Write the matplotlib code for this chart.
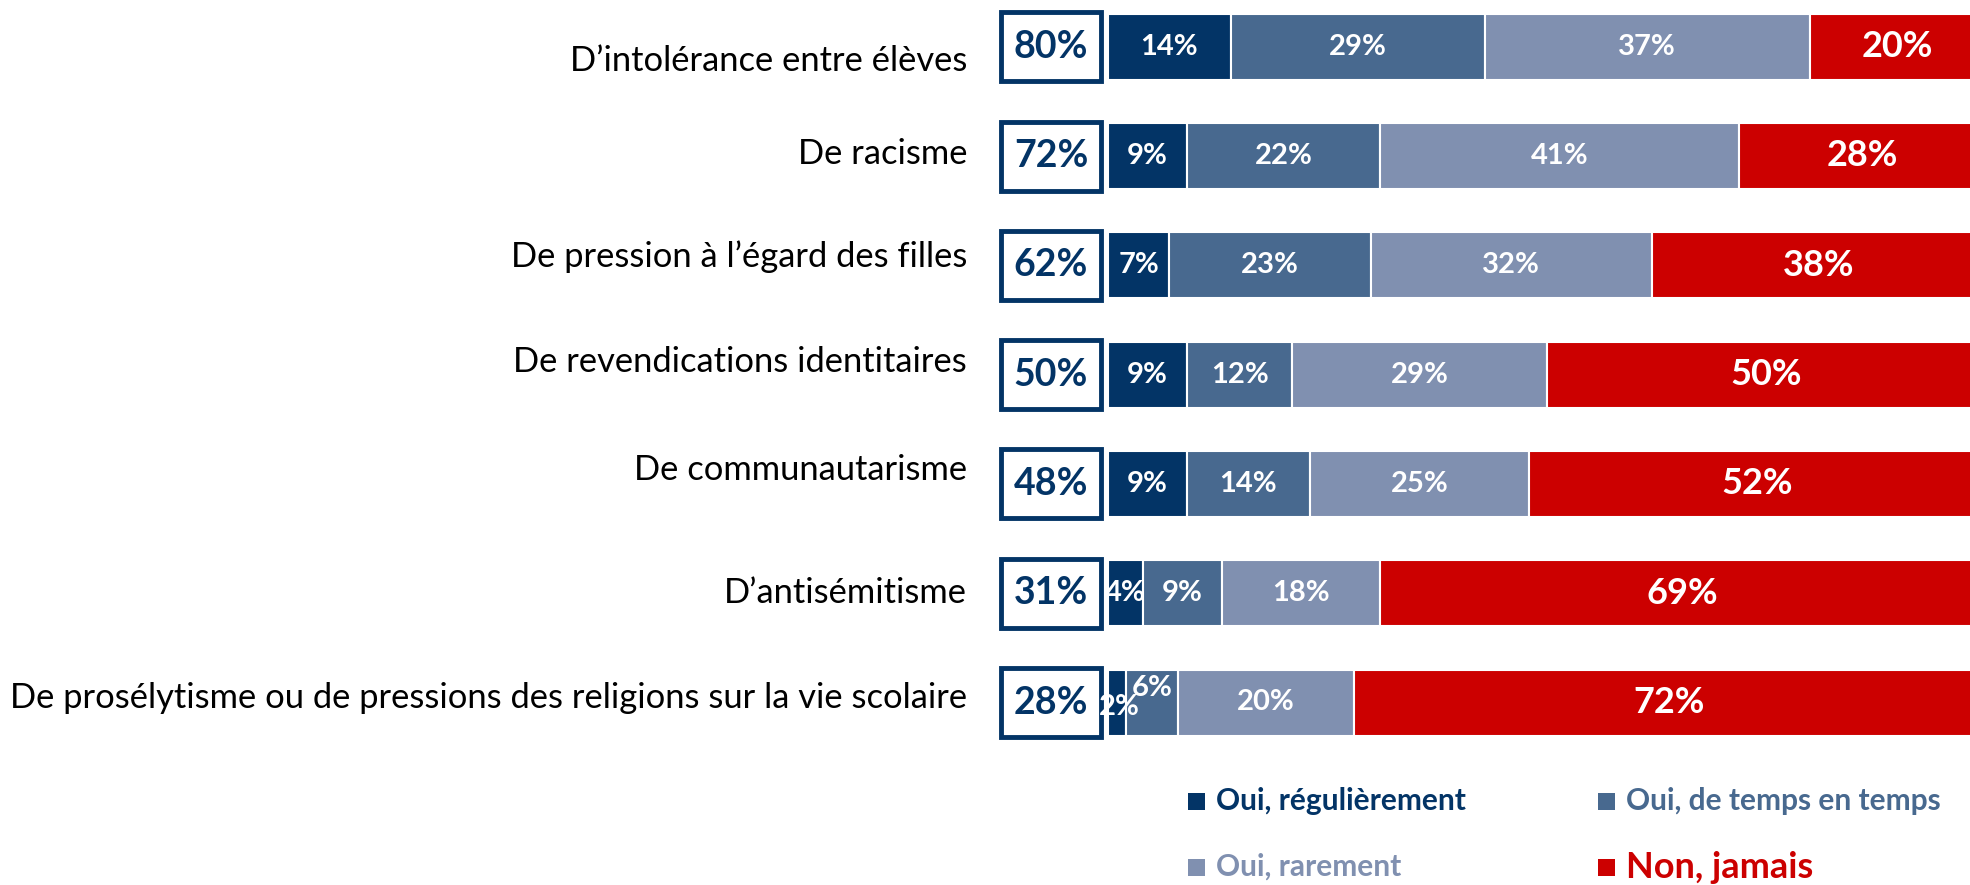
import matplotlib
matplotlib.use("Agg")
import matplotlib.pyplot as plt
from matplotlib.patches import Rectangle

plt.rcParams['font.family'] = ['Lato', 'DejaVu Sans']

categories = [
    "D\u2019intolérance entre élèves",
    "De racisme",
    "De pression à l\u2019égard des filles",
    "De revendications identitaires",
    "De communautarisme",
    "D\u2019antisémitisme",
    "De prosélytisme ou de pressions des religions sur la vie scolaire",
]
series_names = ["Oui, régulièrement", "Oui, de temps en temps", "Oui, rarement", "Non, jamais"]
regulierement = [14, 9, 7, 9, 9, 4, 2]
temps_en_temps = [29, 22, 23, 12, 14, 9, 6]
rarement = [37, 41, 32, 29, 25, 18, 20]
jamais = [20, 28, 38, 50, 52, 69, 72]
totals_oui = [80, 72, 62, 50, 48, 31, 28]

colors = ["#033466", "#48698F", "#8090B0", "#CC0000"]
series = [regulierement, temps_en_temps, rarement, jamais]

# layout: vertical offsets (pixels) of the category labels relative to bar centres
label_offsets_px = [14, -2, -9, -12.5, -14, 0, -4]

W, H = 1970, 885
fig = plt.figure(figsize=(W / 100, H / 100), dpi=100)
x0_px = 1108
px_per_unit_x = 8.77
ax = fig.add_axes([x0_px / W, 0, 1 - x0_px / W, 1])
row0 = 46.7
step = 109.3
ax.set_xlim(0, (W - x0_px) / px_per_unit_x)
ax.set_ylim((H - row0) / step, -row0 / step)
ax.axis('off')

y = list(range(len(categories)))
bar_h = 66 / step
left = [0] * len(categories)
for si, (vals, col) in enumerate(zip(series, colors)):
    ax.barh(y, vals, left=left, height=bar_h, color=col, edgecolor='white', linewidth=1.5)
    for i, v in enumerate(vals):
        cx = left[i] + v / 2
        dy = 0
        if i == 6 and si == 0:
            dy = 0.04
            cx += 0.3
        if i == 6 and si == 1:
            dy = -0.13
        if si == 3:
            ax.text(cx, y[i] + dy, f"{v}%", ha='center', va='center', color='white',
                    fontsize=26, fontweight='bold')
        else:
            ax.text(cx, y[i] + dy, f"{v}%", ha='center', va='center', color='white',
                    fontsize=21, fontweight='bold')
    left = [l + v for l, v in zip(left, vals)]

# boxes with totals
box_l = (1001 - x0_px) / px_per_unit_x
box_r = (1101 - x0_px) / px_per_unit_x
box_h = 69 / step
for i, t in enumerate(totals_oui):
    rect = Rectangle((box_l, y[i] - box_h / 2), box_r - box_l, box_h, facecolor='white',
                     edgecolor='#033466', linewidth=3.5, clip_on=False)
    ax.add_patch(rect)
    ax.text((box_l + box_r) / 2, y[i], f"{t}%", ha='center', va='center', color='#033466',
            fontsize=27, fontweight='bold', clip_on=False)

# category labels
lab_x = (967 - x0_px) / px_per_unit_x
for i, c in enumerate(categories):
    ax.text(lab_x, y[i] + label_offsets_px[i] / step, c, ha='right', va='center',
            color='black', fontsize=24.8, clip_on=False)

# legend
leg_pos = [(1188, 801), (1598, 801), (1188, 867), (1598, 867)]
leg_sizes = [21.5, 21.5, 21.5, 26]
for (lx, ly), name, col, fs in zip(leg_pos, series_names, colors, leg_sizes):
    sq = 17
    fig.patches.append(Rectangle((lx / W, (H - ly - sq / 2) / H), sq / W, sq / H,
                                 transform=fig.transFigure, facecolor=col, edgecolor='none'))
    fig.text((lx + 28) / W, (H - ly) / H, name, ha='left', va='center', color=col,
             fontsize=fs, fontweight='bold')

fig.savefig("out.png", dpi=100)
